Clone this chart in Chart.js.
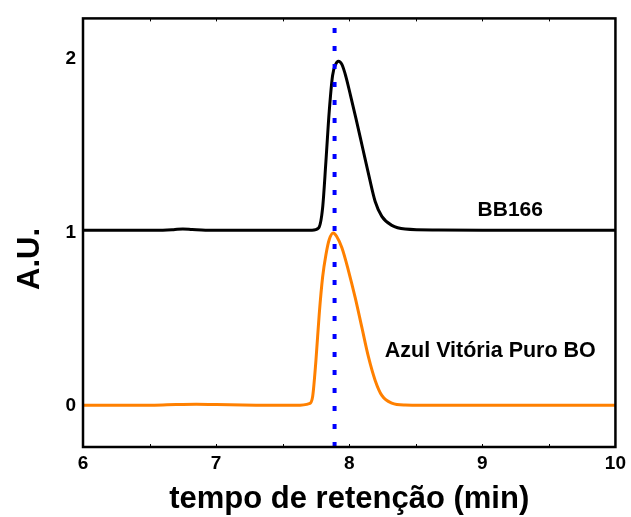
<!DOCTYPE html>
<html>
<head>
<meta charset="utf-8">
<script src="https://cdn.jsdelivr.net/npm/chart.js@4.4.1/dist/chart.umd.min.js"></script>
<style>
  html, body { margin: 0; padding: 0; background: #fff; }
  #wrap { width: 631px; height: 517px; }
</style>
</head>
<body>
<div id="wrap"><canvas id="mychart"></canvas></div>
<script>
// retention time (min) and absorbance (A.U.)
var bbTime = [6.0, 6.3, 6.55, 6.68, 6.75, 6.82, 6.92, 7.2, 7.5, 7.72, 7.77, 7.80, 7.825, 7.85, 7.875, 7.90, 7.918, 7.945, 7.975, 8.01, 8.05, 8.10, 8.15, 8.195, 8.245, 8.32, 8.42, 8.67, 9.0, 9.5, 10.0];
var bbValue = [1.011, 1.011, 1.011, 1.015, 1.019, 1.016, 1.012, 1.011, 1.011, 1.012, 1.025, 1.14, 1.41, 1.70, 1.906, 1.973, 1.989, 1.97, 1.90, 1.79, 1.66, 1.49, 1.32, 1.178, 1.092, 1.04, 1.019, 1.013, 1.011, 1.011, 1.011];

var azulTime = [6.0, 6.4, 6.7, 6.85, 7.0, 7.3, 7.6, 7.70, 7.725, 7.75, 7.775, 7.80, 7.825, 7.85, 7.88, 7.905, 7.945, 7.995, 8.045, 8.095, 8.145, 8.195, 8.245, 8.32, 8.42, 8.7, 9.0, 9.5, 10.0];
var azulValue = [0.0, 0.0, 0.004, 0.006, 0.004, 0.001, 0.0, 0.01, 0.05, 0.26, 0.53, 0.74, 0.87, 0.958, 0.996, 0.977, 0.91, 0.776, 0.622, 0.45, 0.278, 0.144, 0.057, 0.013, 0.002, 0.0, 0.0, 0.0, 0.0];

var markerTime = 7.89;
var xTicks = [6, 7, 8, 9, 10];
var yTicks = [0, 1, 2];
var xRange = [6, 10];
var yRange = [-0.241, 2.236];

function toPoints(xs, ys) {
    var pts = [];
    for (var i = 0; i < xs.length; i++) {
        pts.push({x: xs[i], y: ys[i]});
    }
    return pts;
}

var fontFamily = "'Liberation Sans', Arial, sans-serif";

// frame, inward ticks, curve labels and the y title
var framePlugin = {
    id: 'frame',
    afterDraw: function(chart) {
        var ctx = chart.ctx;
        var a = chart.chartArea;
        var xs = chart.scales.x;
        var ys = chart.scales.y;
        ctx.save();
        ctx.strokeStyle = '#000';
        ctx.lineWidth = 1;
        for (var v = xRange[0] + 0.5; v < xRange[1]; v += 0.5) {
            var px = Math.round(xs.getPixelForValue(v)) + 0.5;
            ctx.beginPath();
            ctx.moveTo(px, a.bottom);
            ctx.lineTo(px, a.bottom - 3);
            ctx.moveTo(px, a.top);
            ctx.lineTo(px, a.top + 3);
            ctx.stroke();
        }
        ctx.lineWidth = 2.5;
        ctx.strokeRect(a.left, a.top, a.right - a.left, a.bottom - a.top);

        ctx.fillStyle = '#000';
        ctx.font = 'bold 21px ' + fontFamily;
        ctx.textAlign = 'center';
        ctx.textBaseline = 'middle';
        ctx.fillText('BB166', xs.getPixelForValue(9.21), ys.getPixelForValue(1.13));
        ctx.font = 'bold 21.5px ' + fontFamily;
        ctx.fillText('Azul Vitória Puro BO', xs.getPixelForValue(9.06), ys.getPixelForValue(0.316));

        ctx.font = 'bold 31px ' + fontFamily;
        ctx.translate(30, 259);
        ctx.rotate(-Math.PI / 2);
        ctx.fillText('A.U.', 0, 0);
        ctx.restore();
    }
};

var config = {
    type: 'line',
    data: {
        datasets: [{
            label: 'marker',
            data: [{x: markerTime, y: yRange[0]}, {x: markerTime, y: yRange[1]}],
            borderColor: '#0000ff',
            borderWidth: 4,
            borderDash: [5, 13],
            pointRadius: 0,
            order: 0
        }, {
            label: 'BB166',
            data: toPoints(bbTime, bbValue),
            borderColor: '#000000',
            borderWidth: 3,
            pointRadius: 0,
            cubicInterpolationMode: 'monotone',
            order: 1
        }, {
            label: 'Azul Vitória Puro BO',
            data: toPoints(azulTime, azulValue),
            borderColor: '#ff8000',
            borderWidth: 3,
            pointRadius: 0,
            cubicInterpolationMode: 'monotone',
            order: 2
        }]
    },
    options: {
        responsive: true,
        maintainAspectRatio: false,
        animation: false,
        layout: { padding: { top: 16, right: 14, left: 0, bottom: 0 } },
        plugins: {
            legend: { display: false },
            tooltip: { enabled: false }
        },
        scales: {
            x: {
                type: 'linear',
                min: xRange[0],
                max: xRange[1],
                afterBuildTicks: function(scale) {
                    scale.ticks = xTicks.map(function(v) { return {value: v}; });
                },
                afterFit: function(scale) { scale.height = 70; },
                grid: { display: false, drawTicks: false },
                border: { display: false },
                ticks: {
                    padding: 5,
                    color: '#000',
                    maxRotation: 0,
                    autoSkip: false,
                    font: { family: fontFamily, size: 19, weight: 'bold' }
                },
                title: {
                    display: true,
                    text: 'tempo de retenção (min)',
                    color: '#000',
                    padding: { bottom: 2, top: 0 },
                    font: { family: fontFamily, size: 31, weight: 'bold', lineHeight: 1 }
                }
            },
            y: {
                type: 'linear',
                min: yRange[0],
                max: yRange[1],
                afterBuildTicks: function(scale) {
                    scale.ticks = yTicks.map(function(v) { return {value: v}; });
                },
                afterFit: function(scale) { scale.width = 83; },
                grid: { display: false, drawTicks: false },
                border: { display: false },
                ticks: {
                    padding: 7,
                    color: '#000',
                    font: { family: fontFamily, size: 19, weight: 'bold' }
                },
                title: { display: false }
            }
        }
    },
    plugins: [framePlugin]
};

var ctx = document.getElementById('mychart').getContext('2d');
window.myChart = new Chart(ctx, config);
</script>
</body>
</html>
